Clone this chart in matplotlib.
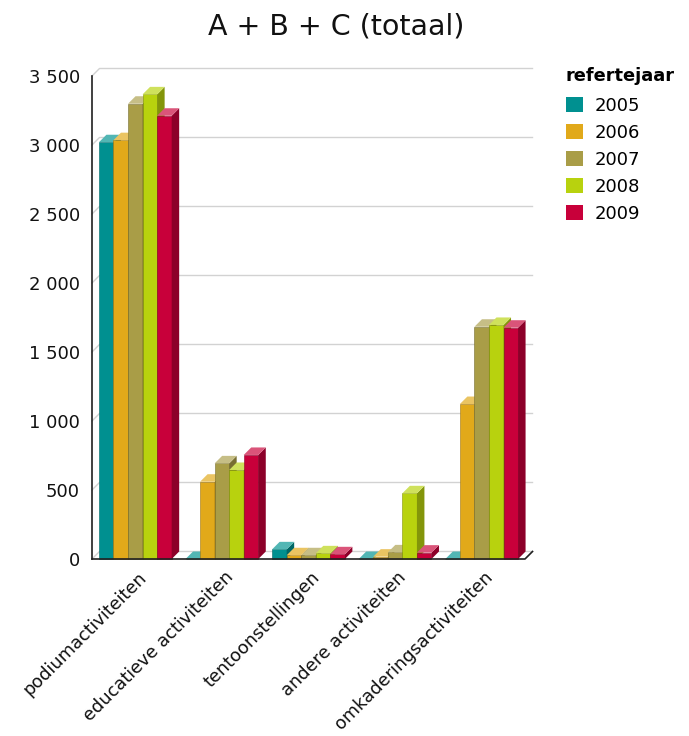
import matplotlib
matplotlib.use("Agg")
import matplotlib.pyplot as plt
from matplotlib.patches import Polygon, Patch
from matplotlib.transforms import ScaledTranslation

categories = ["podiumactiviteiten", "educatieve activiteiten", "tentoonstellingen",
              "andere activiteiten", "omkaderingsactiviteiten"]
years = ["2005", "2006", "2007", "2008", "2009"]
v2005 = [3020, 0, 70, 0, 0]
v2006 = [3035, 560, 27, 17, 1123]
v2007 = [3299, 693, 27, 48, 1683]
v2008 = [3367, 645, 41, 476, 1696]
v2009 = [3212, 754, 34, 46, 1676]
series = [v2005, v2006, v2007, v2008, v2009]
yticks = [0, 500, 1000, 1500, 2000, 2500, 3000, 3500]
ytick_labels = ["0", "500", "1 000", "1 500", "2 000", "2 500", "3 000", "3 500"]

front = ["#009090", "#E1A91A", "#A99D47", "#B8D20E", "#C8003A"]
top = ["#52B6B4", "#EAC462", "#C6BE86", "#CFE15C", "#DA5479"]
side = ["#006766", "#A07712", "#776E31", "#83950A", "#8C0029"]

plt.rcParams["font.family"] = ["DejaVu Sans"]
fig = plt.figure(figsize=(6.89, 7.36), dpi=100)
W, H = 689, 736
left_px, right_px, bot_px, top_px = 92, 525, 559, 76
ax = fig.add_axes([left_px / W, 1 - bot_px / H, (right_px - left_px) / W, (bot_px - top_px) / H])
ymax = 3500
ax.set_xlim(0, 5)
ax.set_ylim(0, ymax)
for s in ax.spines.values():
    s.set_visible(False)

px_x = 5 / (right_px - left_px)
px_y = ymax / (bot_px - top_px)
dx = 7.5 * px_x
dy = 7.5 * px_y

# gridlines on back wall with diagonal on left wall
for yv in yticks:
    ax.plot([0, dx, 5 + dx], [yv, yv + dy, yv + dy], color="#d2d2d2", lw=1.0,
            clip_on=False, zorder=1)
# floor front edge and left axis
ax.plot([0, 5, 5 + dx], [0, 0, dy], color="#202020", lw=1.2, clip_on=False, zorder=50)
ax.plot([0, 0], [0, ymax], color="#202020", lw=1.2, clip_on=False, zorder=50)

w = 0.168
gap = 0.08
z = 5
for i in range(len(categories)):
    for j, vals in enumerate(series):
        v = vals[i]
        x0 = i + gap + j * w
        ax.bar(x0, v, width=w, align="edge", color=front[j], edgecolor=side[j],
               linewidth=0.4, zorder=z, clip_on=False)
        ax.add_patch(Polygon([(x0 + w, 0), (x0 + w + dx, dy), (x0 + w + dx, v + dy), (x0 + w, v)],
                             closed=True, facecolor=side[j], edgecolor="none", zorder=z, clip_on=False))
        ax.add_patch(Polygon([(x0, v), (x0 + w, v), (x0 + w + dx, v + dy), (x0 + dx, v + dy)],
                             closed=True, facecolor=top[j], edgecolor="none", zorder=z, clip_on=False))
        z += 1

ax.set_yticks(yticks)
ax.set_yticklabels(ytick_labels, fontsize=13, color="#111111")
ax.tick_params(axis="y", length=0, pad=8.6)
ax.set_xticks([i + 0.5 for i in range(len(categories))])
ax.set_xticklabels(categories, fontsize=12.8, rotation=45, ha="right", va="top",
                   rotation_mode="anchor", color="#111111")
ax.tick_params(axis="x", length=0, pad=6.5)
off = ScaledTranslation(2 / 100, 0, fig.dpi_scale_trans)
for lab in ax.get_xticklabels():
    lab.set_transform(lab.get_transform() + off)

fig.text(336 / W, 1 - 27 / H, "A + B + C (totaal)", fontsize=20.5, ha="center", va="center",
         color="#111111")

handles = [Patch(facecolor=front[j], edgecolor="none") for j in range(len(years))]
leg = fig.legend(handles, years, loc="upper left", bbox_to_anchor=(553 / W, 1 - 54 / H),
                 frameon=False, fontsize=13, title="refertejaar",
                 title_fontproperties={"weight": "bold", "size": 12.8},
                 handlelength=0.95, handleheight=0.95, handletextpad=0.65,
                 labelspacing=0.5, borderpad=0.2)
leg._legend_box.align = "left"
leg._legend_box.sep += 2.2

fig.savefig("out.png", dpi=100)
